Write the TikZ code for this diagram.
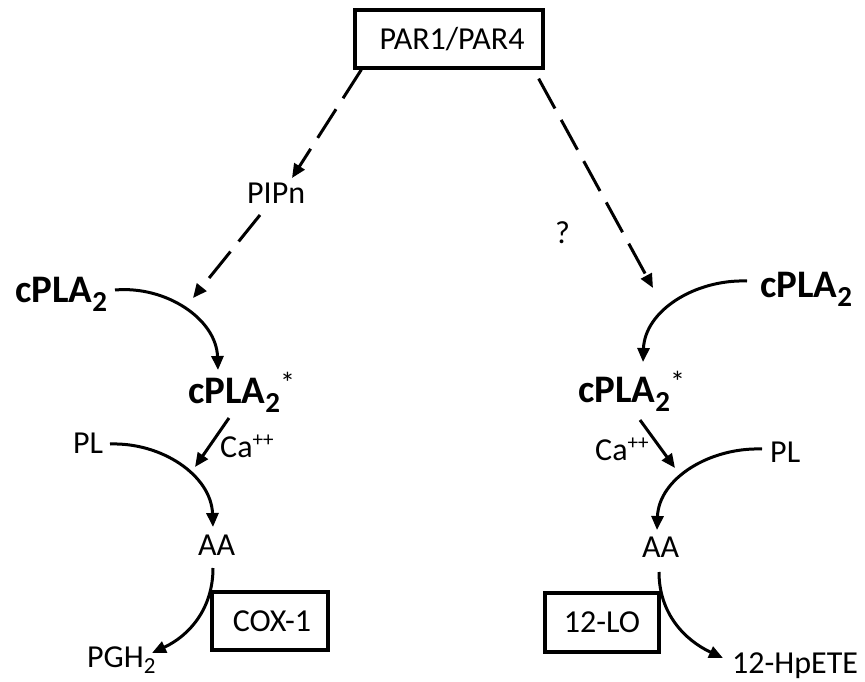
\documentclass[tikz,border=0pt]{standalone}
\usepackage{fontspec}
\setmainfont{Carlito}
\usetikzlibrary{arrows.meta}
\newcommand\bsub[1]{\raisebox{-9pt}{\fontsize{29}{29}\selectfont #1}}
\newcommand\nsub[1]{\raisebox{-6pt}{\fontsize{23}{23}\selectfont #1}}
\newcommand\nsup[1]{\raisebox{11pt}{\fontsize{21}{21}\selectfont #1}}
\newcommand\bstar{\raisebox{10pt}{\fontsize{30}{30}\selectfont\mdseries *}}
\begin{document}
\begin{tikzpicture}[x=1pt,y=-1pt,
  lbl/.style={inner sep=0pt,anchor=base west,font=\fontsize{32}{36}\selectfont},
  big/.style={inner sep=0pt,anchor=base west,font=\fontsize{39}{44}\selectfont\bfseries},
  enz/.style={draw,line width=3.3pt,inner sep=0pt,font=\fontsize{32}{36}\selectfont},
  arr/.style={line width=3pt,-{Triangle[length=14pt,width=12pt]}},
  darr/.style={arr,dash pattern=on 34pt off 13pt}]
\useasboundingbox (0,0) rectangle (865,682);
% nodes
\node[enz,minimum width=188pt,minimum height=58pt] (par) at (449,39) {\hspace*{6pt}PAR1/PAR4};
\node[lbl] (pipn) at (247,203) {PIPn};
\node[lbl] (q) at (555,243) {?};
\node[big] (cl) at (15,302) {cPLA\bsub{2}};
\node[big] (cls) at (188,403) {cPLA\bsub{2}\bstar};
\node[big] (cr) at (760,297) {cPLA\bsub{2}};
\node[big] (crs) at (578,402) {cPLA\bsub{2}\bstar};
\node[lbl] (pll) at (73,453) {PL};
\node[lbl] (cal) at (220,457) {Ca\nsup{++}};
\node[lbl] (aal) at (198,555) {AA};
\node[lbl] (pgh) at (87,667) {PGH\nsub{2}};
\node[enz,minimum width=116pt,minimum height=58pt] (cox) at (270,621) {\hspace*{4pt}COX-1};
\node[lbl] (car) at (595,460) {Ca\nsup{++}};
\node[lbl] (plr) at (770,462) {PL};
\node[lbl] (aar) at (642,557) {AA};
\node[lbl] (hp) at (732,673) {12-HpETE};
\node[enz,minimum width=114pt,minimum height=59pt] (lo) at (602,622.5) {12-LO};
% dashed connectors
\draw[darr] ([shift={(8,0)}]par.south west) -- ([shift={(45,-25)}]pipn.base west);
\draw[darr] ([shift={(13,12)}]pipn.base west) -- ([shift={(5,-105)}]cls.base west);
\draw[darr] ([shift={(-6,9)}]par.south east) -- ([shift={(75,-114)}]crs.base west);
% activation curves
\draw[arr] ([shift={(100,-12)}]cl.base west) to[out=5,in=92] ([shift={(30,-33)}]cls.base west);
\draw[arr] ([shift={(-13,-16)}]cr.base west) to[out=178,in=88] ([shift={(65,-40)}]crs.base west);
% Ca arrows
\draw[arr] ([shift={(41,15)}]cls.base west) -- ([shift={(-3,-88)}]aal.base west);
\draw[arr] ([shift={(62,18)}]crs.base west) -- ([shift={(33,-89)}]aar.base west);
% PL -> AA
\draw[arr] ([shift={(37,-9)}]pll.base west) to[out=2,in=92] ([shift={(15,-28)}]aal.base west);
\draw[arr] ([shift={(-8,-13)}]plr.base west) to[out=178,in=88] ([shift={(15,-27)}]aar.base west);
% AA -> products
\draw[arr] ([shift={(15,13)}]aal.base west) to[out=-90,in=25] ([shift={(65,-14)}]pgh.base west);
\draw[arr] ([shift={(17,15)}]aar.base west) to[out=-90,in=155] ([shift={(-9,-15)}]hp.base west);
\end{tikzpicture}
\end{document}
